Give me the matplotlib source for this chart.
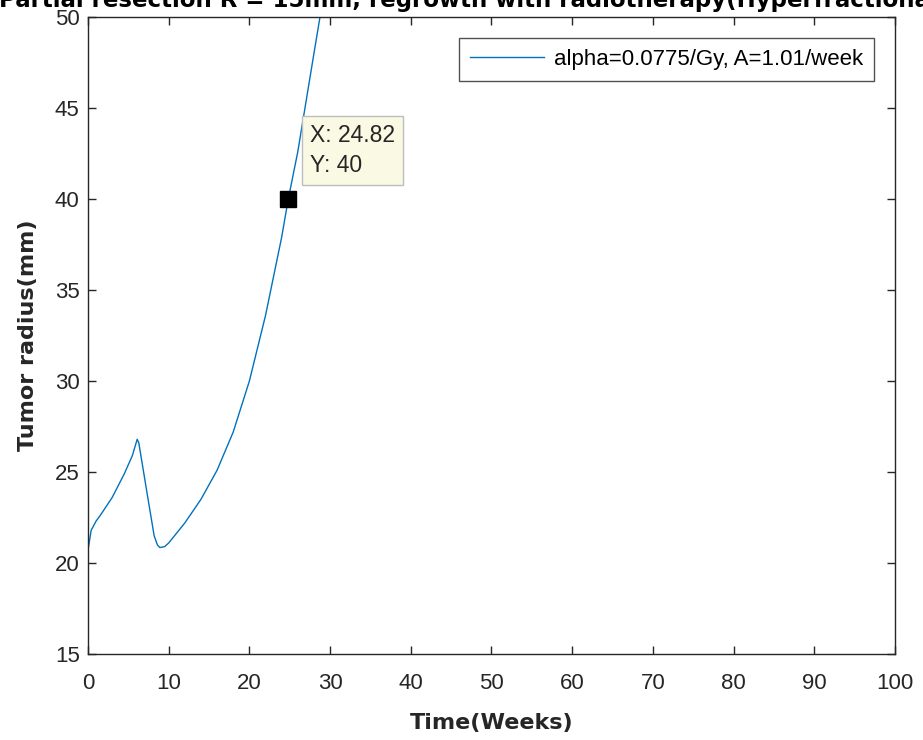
import numpy as np
import matplotlib.pyplot as plt

# tumour radius
weeks = [0, 0.4, 1.0, 1.5, 3.0, 4.5, 5.5, 6.1, 6.3, 7.3, 8.2, 8.6, 8.9, 9.5,
         10, 12, 14, 16, 18, 20, 22, 24, 24.82, 26, 27, 28, 28.75, 29.2]
radius = [20.7, 21.8, 22.3, 22.6, 23.6, 24.9, 25.9, 26.8, 26.6, 23.9, 21.5, 21.0, 20.85, 20.9,
          21.1, 22.2, 23.5, 25.1, 27.2, 30.0, 33.6, 37.9, 40.0, 42.6, 45.3, 48.0, 50.0, 51.4]

tip_x, tip_y = 24.82, 40
xticks = list(range(0, 101, 10))
yticks = list(range(15, 51, 5))

title_txt = 'Partial resection R = 15mm, regrowth with radiotherapy(Hyperfractionated)'
legend_txt = 'alpha=0.0775/Gy, A=1.01/week'

dark = '#262626'
plt.rcParams['font.family'] = ['Liberation Sans', 'DejaVu Sans']

fig = plt.figure(figsize=(9.23, 7.4), dpi=100)
ax = fig.add_axes([0.0953, 0.1162, 0.8744, 0.8608])

ax.plot(weeks, radius, color='#0072BD', lw=1.0, label=legend_txt)
ax.plot([tip_x], [tip_y], 's', color='black', ms=12, zorder=5)

ax.annotate('X: 24.82\nY: 40', xy=(tip_x, tip_y), xytext=(15.6, 16.1),
            textcoords='offset points', ha='left', va='bottom',
            fontsize=16.5, color=dark, linespacing=1.35,
            bbox=dict(boxstyle='square,pad=0.35', fc='#FAFAE4', ec='#BDBDBD', lw=1),
            zorder=6)

ax.set_xlim(0, 100)
ax.set_ylim(15, 50)
ax.set_xticks(xticks)
ax.set_yticks(yticks)

for sp in ax.spines.values():
    sp.set_color(dark)
    sp.set_linewidth(1.0)
ax.tick_params(direction='in', length=6, width=1, colors=dark,
               top=True, right=True, labelsize=16)
ax.tick_params(axis='x', pad=14)
ax.tick_params(axis='y', pad=6)

ax.set_xlabel('Time(Weeks)', fontsize=16, fontweight='bold', family='DejaVu Sans',
              color=dark, labelpad=13)
ax.set_ylabel('Tumor radius(mm)', fontsize=16, fontweight='bold', family='DejaVu Sans',
              color=dark, labelpad=12)

leg = ax.legend(loc='upper right', fontsize=16, frameon=True, fancybox=False,
                edgecolor=dark, handlelength=3.3, handletextpad=0.45,
                borderpad=0.5, borderaxespad=0.95)
leg.get_frame().set_linewidth(1.0)

fig.text(0.532, 0.990, title_txt, ha='center', va='baseline', fontsize=16.5,
         fontweight='bold', family='DejaVu Sans', color='black')

fig.savefig('out.png', dpi=100)
